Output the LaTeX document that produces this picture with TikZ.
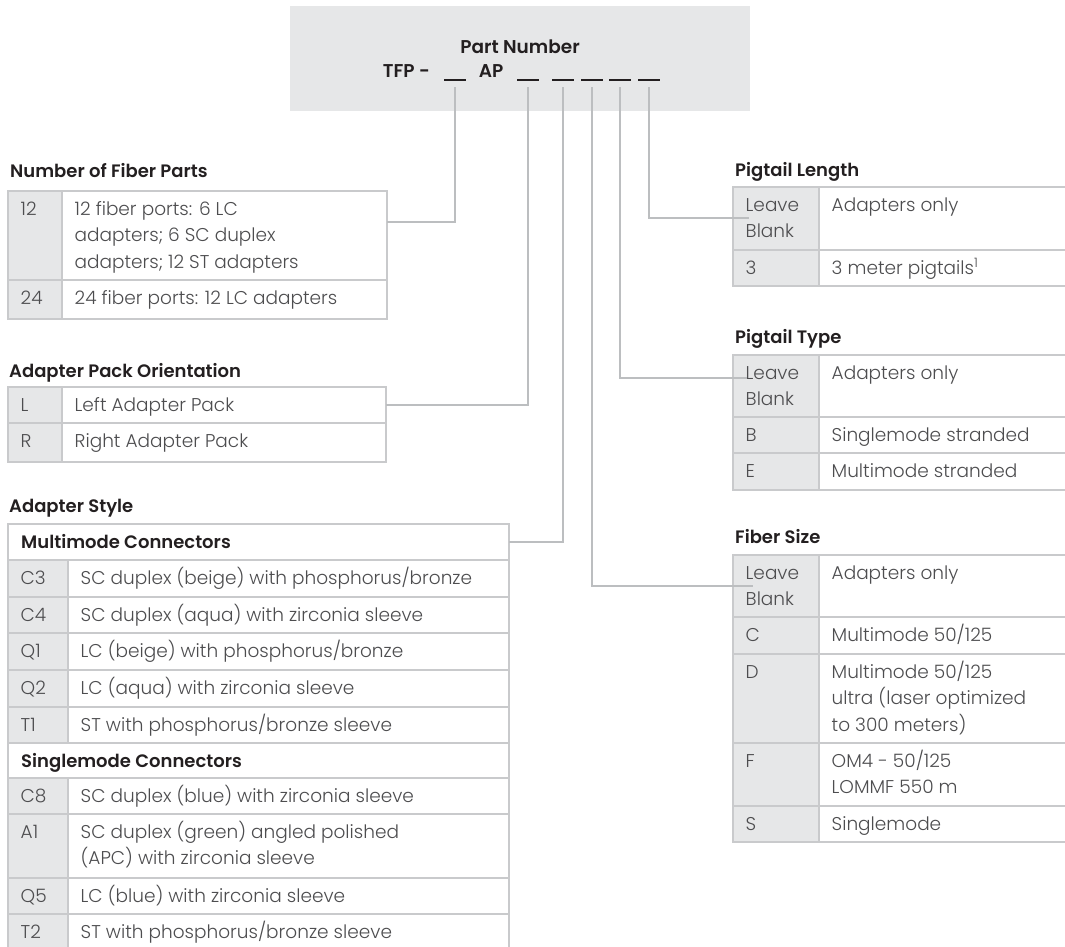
\documentclass[tikz,border=0pt]{standalone}
\usepackage{fontspec}
\setmainfont{Poppins}
\IfFontExistsTF{Poppins Light}{\newfontfamily\bodyfont{Poppins Light}}{\newfontfamily\bodyfont{Poppins}}
\IfFontExistsTF{Poppins SemiBold}{\newfontfamily\headfont{Poppins SemiBold}}{\newfontfamily\headfont{Poppins}}
\usepackage{tikz}
\usetikzlibrary{positioning}
\definecolor{panel}{HTML}{E6E7E8}
\definecolor{rulegray}{HTML}{C9CACC}
\definecolor{wiregray}{HTML}{BCBEC0}
\definecolor{ink}{HTML}{231F20}
\definecolor{body}{HTML}{4D4D4F}
\tikzset{
  grid/.style={draw=rulegray,line width=1.5pt},
  wire/.style={draw=wiregray,line width=1.2pt},
  heading/.style={anchor=base west,inner sep=0pt,text=ink,font=\headfont\fontsize{18}{22}\selectfont},
  celltext/.style={anchor=base west,inner sep=0pt,text=body,font=\bodyfont\fontsize{18.5}{26.5}\selectfont},
  partno/.style={anchor=base,inner sep=0pt,text=ink,font=\headfont\fontsize{18.5}{22}\selectfont}
}
% one option row: name, left, divider, right, top, bottom, code, text
\newcommand{\optrow}[8]{%
  \fill[panel] (#2,#5) rectangle (#3,#6);
  \draw[grid] (#2,#5) rectangle (#4,#6) (#3,#5) -- (#3,#6);
  \node[celltext] (#1c) at (#2+12.5,#5+24) {\begin{tabular}[t]{@{}l@{}}#7\end{tabular}};
  \node[celltext] (#1d) at (#3+12.5,#5+24) {\begin{tabular}[t]{@{}l@{}}#8\end{tabular}};}
% a group row spanning the table
\newcommand{\grouprow}[6]{%
  \draw[grid] (#2,#4) rectangle (#3,#5);
  \node[heading] (#1) at (#2+13,#4+24) {#6};}
\newcommand{\blankline}{\rule[-3pt]{22pt}{1.6pt}}

\begin{document}
\begin{tikzpicture}[x=1pt,y=-1pt]
  \useasboundingbox (0,0) rectangle (1065,947);
  \clip (0,0) rectangle (1065,947);

  % part number panel
  \fill[panel] (290,6) rectangle (750,111);
  \node[partno] (pn) at (520,54) {Part Number};
  \node[partno,anchor=base east] (tfp) at (430,78) {TFP -};
  \node[partno] (ap) at (491,78) {AP};
  \node[partno] (s1) at (455,78) {\blankline};
  \node[partno] (s2) at (528,78) {\blankline};
  \node[partno] (s3) at (563,78) {\blankline};
  \node[partno] (s4) at (592,78) {\blankline};
  \node[partno] (s5) at (620,78) {\blankline};
  \node[partno] (s6) at (649,78) {\blankline};

  % number of fiber parts
  \node[heading] (nfp) at (10,177) {Number of Fiber Parts};
  \optrow{nfa}{8}{62}{387}{191}{280}{12}{12 fiber ports: 6 LC\\adapters; 6 SC duplex\\adapters; 12 ST adapters}
  \optrow{nfb}{8}{62}{387}{280}{319}{24}{24 fiber ports: 12 LC adapters}
  \coordinate (fiberin) at (387,222);

  % adapter pack orientation
  \node[heading] (apo) at (9,377) {Adapter Pack Orientation};
  \optrow{apl}{8}{62}{386}{387}{423}{L}{Left Adapter Pack}
  \optrow{apr}{8}{62}{386}{423}{462}{R}{Right Adapter Pack}
  \coordinate (packin) at (386,405);

  % adapter style
  \node[heading] (ast) at (9,512) {Adapter Style};
  \grouprow{mm}{8}{509}{524}{560}{Multimode Connectors}
  \foreach \cd/\tp/\bt/\txt in {C3/560/597/{SC duplex (beige) with phosphorus/bronze},
      C4/597/633/{SC duplex (aqua) with zirconia sleeve},
      Q1/633/670/{LC (beige) with phosphorus/bronze},
      Q2/670/707/{LC (aqua) with zirconia sleeve},
      T1/707/743/{ST with phosphorus/bronze sleeve}}
    {\optrow{as\cd}{8}{68}{509}{\tp}{\bt}{\cd}{\txt}}
  \grouprow{sm}{8}{509}{743}{778}{Singlemode Connectors}
  \optrow{asC8}{8}{68}{509}{778}{814}{C8}{SC duplex (blue) with zirconia sleeve}
  \optrow{asA1}{8}{68}{509}{814}{878}{A1}{SC duplex (green) angled polished\\(APC) with zirconia sleeve}
  \optrow{asQ5}{8}{68}{509}{878}{914}{Q5}{LC (blue) with zirconia sleeve}
  \optrow{asT2}{8}{68}{509}{914}{951}{T2}{ST with phosphorus/bronze sleeve}
  \coordinate (stylein) at (509,542);

  % pigtail length
  \node[heading] (pgl) at (735,176) {Pigtail Length};
  \optrow{pla}{733}{819}{1070}{187}{250}{Leave\\Blank}{Adapters only}
  \optrow{plb}{733}{819}{1070}{250}{286}{3}{3 meter pigtails\textsuperscript{1}}
  \coordinate (lengthin) at (749,218);

  % pigtail type
  \node[heading] (pgt) at (735,343) {Pigtail Type};
  \optrow{pta}{733}{819}{1070}{355}{417}{Leave\\Blank}{Adapters only}
  \optrow{ptb}{733}{819}{1070}{417}{453}{B}{Singlemode stranded}
  \optrow{ptc}{733}{819}{1070}{453}{490}{E}{Multimode stranded}
  \coordinate (typein) at (747,378);

  % fiber size
  \node[heading] (fsz) at (735,543) {Fiber Size};
  \optrow{fsa}{733}{819}{1070}{555}{617}{Leave\\Blank}{Adapters only}
  \optrow{fsc}{733}{819}{1070}{617}{654}{C}{Multimode 50/125}
  \optrow{fsd}{733}{819}{1070}{654}{743}{D}{Multimode 50/125\\ultra (laser optimized\\to 300 meters)}
  \optrow{fsf}{733}{819}{1070}{743}{806}{F}{OM4 - 50/125\\LOMMF 550 m}
  \optrow{fss}{733}{819}{1070}{806}{842}{S}{Singlemode}
  \coordinate (sizein) at (753,586);

  % leaders from the blanks
  \draw[wire] ([yshift=-6pt]s1.south) |- (fiberin);
  \draw[wire] ([yshift=-6pt]s2.south) |- (packin);
  \draw[wire] ([yshift=-6pt]s3.south) |- (stylein);
  \draw[wire] ([yshift=-6pt]s4.south) |- (sizein);
  \draw[wire] ([yshift=-6pt]s5.south) |- (typein);
  \draw[wire] ([yshift=-6pt]s6.south) |- (lengthin);
\end{tikzpicture}
\end{document}
